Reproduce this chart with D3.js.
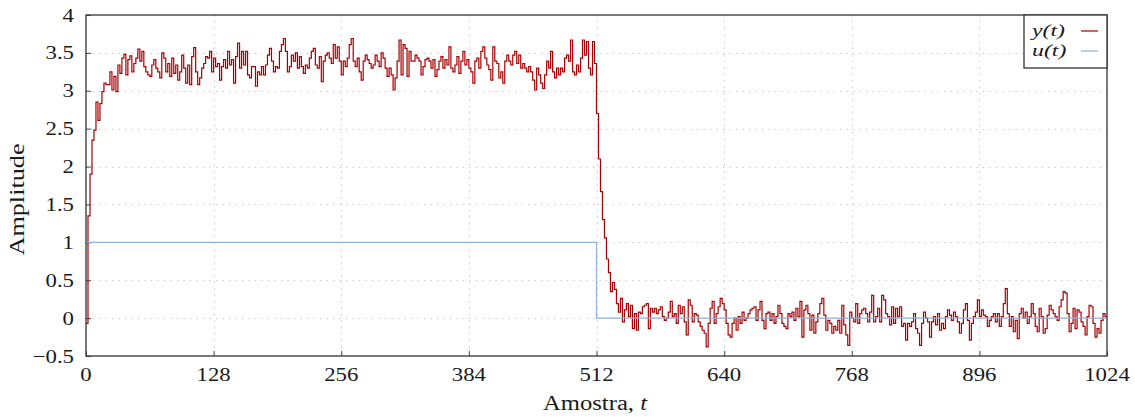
<!DOCTYPE html>
<html>
<head>
<meta charset="utf-8">
<script src="https://cdn.jsdelivr.net/npm/d3@7"></script>
<style>
  body { margin: 0; background: #fff; }
  svg text { font-family: "Liberation Serif", "DejaVu Serif", serif; fill: #1a1a1a; }
</style>
</head>
<body>
<svg id="chart" width="1135" height="418"></svg>
<script>
// Tick positions
const xTicks = [0, 128, 256, 384, 512, 640, 768, 896, 1024];
const yTicks = [-0.5, 0, 0.5, 1, 1.5, 2, 2.5, 3, 3.5, 4];

// Output y(t): one value held for every 2 samples (t = 0, 2, 4, ... 1022)
const sampleStep = 2;
const yValues = [
  -0.07, 1.35, 1.90, 2.35, 2.48, 2.85,
  2.61, 2.83, 2.99, 3.10, 3.08, 3.08, 3.25, 3.01, 3.19, 2.99,
  3.34, 3.23, 3.43, 3.48, 3.21, 3.41, 3.46, 3.25, 3.36, 3.43,
  3.55, 3.39, 3.52, 3.32, 3.25, 3.21, 3.19, 3.34, 3.41, 3.30,
  3.25, 3.17, 3.50, 3.43, 3.25, 3.36, 3.19, 3.43, 3.23, 3.34,
  3.14, 3.25, 3.47, 3.30, 3.10, 3.34, 3.08, 3.45, 3.57, 3.25,
  3.08, 3.17, 3.30, 3.36, 3.45, 3.43, 3.52, 3.25, 3.43, 3.32,
  3.36, 3.14, 3.32, 3.41, 3.30, 3.52, 3.34, 3.41, 3.10, 3.45,
  3.63, 3.30, 3.52, 3.34, 3.52, 3.21, 3.17, 3.32, 3.32, 3.06,
  3.25, 3.21, 3.32, 3.21, 3.34, 3.47, 3.56, 3.39, 3.25, 3.32,
  3.30, 3.52, 3.61, 3.69, 3.52, 3.25, 3.32, 3.47, 3.39, 3.50,
  3.30, 3.45, 3.32, 3.23, 3.34, 3.30, 3.43, 3.52, 3.56, 3.34,
  3.30, 3.45, 3.12, 3.39, 3.47, 3.50, 3.43, 3.36, 3.61, 3.43,
  3.58, 3.39, 3.21, 3.39, 3.32, 3.43, 3.61, 3.69, 3.39, 3.32,
  3.43, 3.25, 3.14, 3.39, 3.47, 3.41, 3.36, 3.30, 3.34, 3.47,
  3.39, 3.32, 3.50, 3.43, 3.30, 3.19, 3.30, 3.21, 3.01, 3.17,
  3.39, 3.67, 3.21, 3.61, 3.56, 3.19, 3.52, 3.39, 3.39, 3.47,
  3.43, 3.39, 3.21, 3.32, 3.41, 3.43,
  3.39, 3.30, 3.41, 3.19, 3.28, 3.39, 3.45, 3.30, 3.41, 3.34,
  3.58, 3.30, 3.25, 3.34, 3.45, 3.23, 3.39, 3.52, 3.34, 3.41,
  3.30, 3.25, 3.10, 3.39, 3.43, 3.30, 3.52, 3.58, 3.43, 3.34,
  3.28, 3.14, 3.58, 3.39, 3.36, 3.17, 3.25, 3.10, 3.39, 3.47,
  3.39, 3.34, 3.47, 3.52, 3.36, 3.47, 3.30, 3.36, 3.30, 3.25,
  3.32, 3.25, 3.14, 3.01, 3.30, 3.21, 3.10, 3.03, 3.21, 3.39,
  3.30, 3.52, 3.25, 3.17, 3.30, 3.21, 3.30, 3.25, 3.43, 3.47,
  3.39, 3.67, 3.25, 3.21, 3.34, 3.25, 3.43, 3.67, 3.47, 3.65,
  3.30, 3.21, 3.65, 3.36,
  2.70, 2.10, 1.67, 1.30, 1.06, 0.78, 0.60, 0.35, 0.47, 0.38,
  0.19, 0.08, 0.26, -0.05, 0.11, 0.19, 0.02, 0.17, -0.14, 0.06,
  -0.16, 0.08, 0.06, 0.15, 0.17, 0.19, -0.14, 0.13, 0.08, 0.13,
  0.06, 0.11, 0.15, 0.02, -0.03, 0.00, 0.08, 0.22, 0.02, 0.06,
  -0.07, 0.17, 0.06, 0.15, -0.05, -0.22, 0.24, 0.17, -0.05, 0.06,
  0.04, -0.05, -0.11, -0.16, -0.20, -0.38, -0.07, 0.13, 0.22, -0.07,
  0.06, 0.15, 0.26, 0.19, 0.11, -0.07, -0.22, -0.25, -0.07, 0.00,
  -0.16, 0.02, -0.07, 0.08, -0.03, 0.00, 0.06, 0.11, 0.13, 0.15,
  -0.03, 0.11, 0.22, -0.03, -0.14, 0.06,
  0.08, -0.03, 0.06, -0.07, 0.02, 0.17, 0.06, -0.07, -0.11, -0.14,
  0.06, 0.02, 0.08, -0.03, 0.13, 0.02, 0.22, -0.25, 0.11, 0.17,
  0.06, -0.16, 0.04, -0.20, -0.05, 0.06, 0.19, 0.26, 0.04, -0.16,
  -0.03, -0.07, -0.20, -0.11, -0.16, -0.03, -0.20, 0.17, -0.09, -0.22,
  -0.36, 0.08, 0.00, -0.05, 0.19, -0.07, 0.06, 0.11, 0.13, 0.06,
  -0.05, 0.08, 0.30, -0.05, 0.02, 0.13, -0.05, 0.30, 0.24, 0.06,
  0.02, -0.09, 0.15, -0.07, 0.13, 0.02, 0.15, -0.11, -0.07, -0.29,
  -0.07, -0.11, -0.05, 0.06, -0.14, -0.20, -0.36, -0.07, 0.08, 0.00,
  -0.05, -0.25, -0.05,
  0.02, -0.09, 0.06, -0.16, -0.07, -0.14, 0.02, 0.11, 0.04, -0.03,
  0.08, 0.02, -0.05, -0.20, -0.07, 0.11, 0.19, -0.03, -0.29, -0.07,
  0.02, 0.08, 0.24, 0.02, 0.11, 0.04, 0.02, -0.11, -0.03, 0.02,
  0.06, -0.05, 0.06, -0.11, 0.02, 0.19, 0.39, 0.06, -0.11, 0.02,
  -0.18, -0.03, -0.27, 0.06, 0.13, 0.00, 0.08, -0.07, 0.02, 0.19,
  0.06, -0.11, -0.18, 0.13, 0.02, -0.20, -0.14, 0.04, 0.17, 0.11,
  0.06, 0.02, -0.03, 0.15, 0.24, 0.35, 0.33, 0.06, -0.18, -0.07,
  0.13, -0.14, 0.11, 0.08, -0.05, -0.11, -0.22, 0.02, 0.17, 0.15,
  -0.07, -0.25, -0.14, -0.20, -0.03, 0.06, 0.02
];

// Input u(t): step levels, each holding from its time to the next
const uTimes = [0, 512, 1024];
const uValues = [1, 0, 0];

const seriesNames = ["y(t)", "u(t)"];
const seriesColors = ["#a80000", "#8fb1dd"];
const xLabel = "Amostra, t";
const yLabel = "Amplitude";

// ---- layout ----
const plot = { left: 86, right: 1107, top: 15, bottom: 356 };
const SX = 1.2;     // horizontal text stretch
const FS = 19;      // base font size

const svg = d3.select("#chart");
const x = d3.scaleLinear().domain([0, 1024]).range([plot.left, plot.right]);
const y = d3.scaleLinear().domain([-0.5, 4]).range([plot.bottom, plot.top]);

const fmt = v => (v < 0 ? "\u2212" + Math.abs(v) : String(v));

// grid
const grid = svg.append("g").attr("stroke", "#c4c4c4").attr("stroke-width", 1)
  .attr("stroke-dasharray", "1.3,5.2");
grid.selectAll("line.gx").data(xTicks.filter(t => t > 0 && t < 1024)).join("line")
  .attr("x1", d => Math.round(x(d)) + 0.5).attr("x2", d => Math.round(x(d)) + 0.5)
  .attr("y1", plot.top).attr("y2", plot.bottom);
grid.selectAll("line.gy").data(yTicks.filter(t => t > -0.5 && t < 4)).join("line")
  .attr("y1", d => Math.round(y(d)) + 0.5).attr("y2", d => Math.round(y(d)) + 0.5)
  .attr("x1", plot.left).attr("x2", plot.right);

// axes with inward ticks
const xAxis = svg.append("g").attr("transform", `translate(0,${plot.bottom})`)
  .call(d3.axisTop(x).tickValues(xTicks).tickSize(5).tickFormat(""));
const yAxis = svg.append("g").attr("transform", `translate(${plot.left},0)`)
  .call(d3.axisRight(y).tickValues(yTicks).tickSize(5).tickFormat(""));
[xAxis, yAxis].forEach(a => {
  a.select(".domain").remove();
  a.selectAll(".tick line").attr("stroke", "#555").attr("stroke-width", 1.1);
});

// stretched text helper
function label(g, str, px, py, anchor) {
  return g.append("text")
    .attr("transform", `translate(${px},${py}) scale(${SX},1)`)
    .attr("text-anchor", anchor)
    .style("font-size", FS + "px")
    .text(str);
}

const labels = svg.append("g");
xTicks.forEach(t => label(labels, fmt(t), x(t), 381, "middle"));
yTicks.forEach(t => label(labels, fmt(t), 74, y(t) + 6.5, "end"));

// series clip
svg.append("clipPath").attr("id", "plotClip").append("rect")
  .attr("x", plot.left).attr("y", plot.top)
  .attr("width", plot.right - plot.left).attr("height", plot.bottom - plot.top);

const yPoints = yValues.map((v, i) => [i * sampleStep, v]);
yPoints.push([yValues.length * sampleStep, yValues[yValues.length - 1]]);
const uPoints = uTimes.map((t, i) => [t, uValues[i]]);

const line = d3.line().x(d => x(d[0])).y(d => y(d[1])).curve(d3.curveStepAfter);

const series = svg.append("g").attr("clip-path", "url(#plotClip)").attr("fill", "none");
series.append("path").attr("d", line(yPoints))
  .attr("stroke", seriesColors[0]).attr("stroke-width", 1.2).attr("stroke-linejoin", "miter");
series.append("path").attr("d", line(uPoints))
  .attr("stroke", seriesColors[1]).attr("stroke-width", 1.2);

// frame
svg.append("rect").attr("x", plot.left).attr("y", plot.top)
  .attr("width", plot.right - plot.left).attr("height", plot.bottom - plot.top)
  .attr("fill", "none").attr("stroke", "#333").attr("stroke-width", 1.3);

// axis labels (variable name in italics)
svg.append("text")
  .attr("x", 595).attr("y", 410).attr("text-anchor", "middle")
  .attr("textLength", 104).attr("lengthAdjust", "spacingAndGlyphs")
  .style("font-size", "20px")
  .call(t => {
    t.append("tspan").text(xLabel.slice(0, -1));
    t.append("tspan").style("font-style", "italic").text(xLabel.slice(-1));
  });

svg.append("text")
  .attr("transform", `translate(24,${(plot.top + plot.bottom) / 2 + 14}) rotate(-90)`)
  .attr("text-anchor", "middle")
  .attr("textLength", 112).attr("lengthAdjust", "spacingAndGlyphs")
  .style("font-size", "20px")
  .text(yLabel);

// legend
const leg = svg.append("g");
leg.append("rect").attr("x", 1024).attr("y", plot.top).attr("width", plot.right - 1024).attr("height", 53)
  .attr("fill", "#fff").attr("stroke", "#333").attr("stroke-width", 1.3);
seriesNames.forEach((n, i) => {
  const by = 36 + i * 20;
  leg.append("text")
    .attr("transform", `translate(1032,${by}) scale(1.4,1)`)
    .style("font-size", "17px")
    .style("font-style", "italic")
    .text(n);
  leg.append("line").attr("x1", 1081).attr("x2", 1098)
    .attr("y1", by - 5).attr("y2", by - 5)
    .attr("stroke", seriesColors[i]).attr("stroke-width", 1.2);
});
</script>
</body>
</html>
